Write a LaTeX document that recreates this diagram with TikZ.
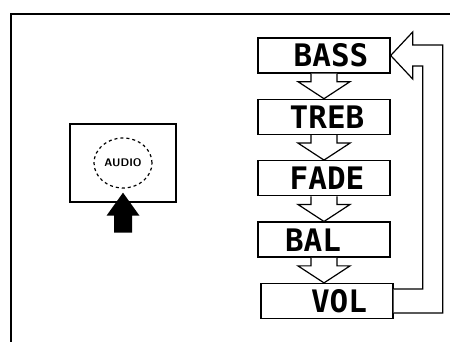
\documentclass[tikz,border=0pt]{standalone}
\usepackage{fontspec}
\usepackage{tikz}
\usetikzlibrary{positioning, calc}
\newfontfamily\lcdfont{DejaVu Sans Mono}
\tikzset{
    menubox/.style={draw, line width=1.4pt, minimum width=132pt, minimum height=35pt,
                    inner sep=0pt, font=\lcdfont\bfseries\fontsize{31}{31}\selectfont},
    hollow/.style={draw, line width=1.2pt, fill=white},
}

\begin{document}
\begin{tikzpicture}[x=1pt, y=1pt, node distance=25pt]
    \useasboundingbox (0,0) rectangle (450,342);
    % frame
    \draw[line width=1.4pt] (11,0) -- (11,328) -- (450,328);

    % audio key
    \node[draw, line width=1.4pt, minimum width=106pt, minimum height=78pt] (audio) at (123,179) {};
    \draw[dashed, line width=1.2pt] (audio.center) ellipse [x radius=29pt, y radius=25pt];
    \node[font=\sffamily\bfseries\fontsize{11}{11}\selectfont] (audiotxt) at (audio.center) {AUDIO};
    \fill ($(audio.south)+(0,10)$) -- ++(16.5,-23) -- ++(-7.5,0) -- ++(0,-17)
          -- ++(-18,0) -- ++(0,17) -- ++(-7.5,0) -- cycle;

    % menu
    \node[menubox] (bass) at (324,286.5) {\hspace*{14pt}BASS};
    \node[menubox, below=of bass] (treb) {\hspace*{6pt}TREB};
    \node[menubox, below=of treb] (fade) {\hspace*{6pt}FADE};
    \node[menubox, below=of fade] (bal) {BAL\hspace*{22pt}};
    \node[menubox, below=of bal, xshift=3pt] (vol) {\hspace*{24pt}VOL};

    \foreach \up/\low in {bass/treb, treb/fade, fade/bal, bal/vol}
        \draw[hollow] ($(\up.south)+(-13,0)$) -- ++(0,-8) -- ++(-13,0)
            -- (\up.south |- \low.north) -- ($(\up.south)+(26,-8)$)
            -- ++(-13,0) -- ++(0,8);

    % back to first item
    \draw[hollow] ($(vol.east)+(0,12)$) -| ($(bass.east)+(32,-10.5)$) -- ++(-10,0)
        -- ++(0,-13) -- (bass.east) -- ++(22,23.5) -- ++(0,-13)
        -| ($(vol.east)+(49,-12)$) -- ($(vol.east)+(0,-12)$);
\end{tikzpicture}
\end{document}
